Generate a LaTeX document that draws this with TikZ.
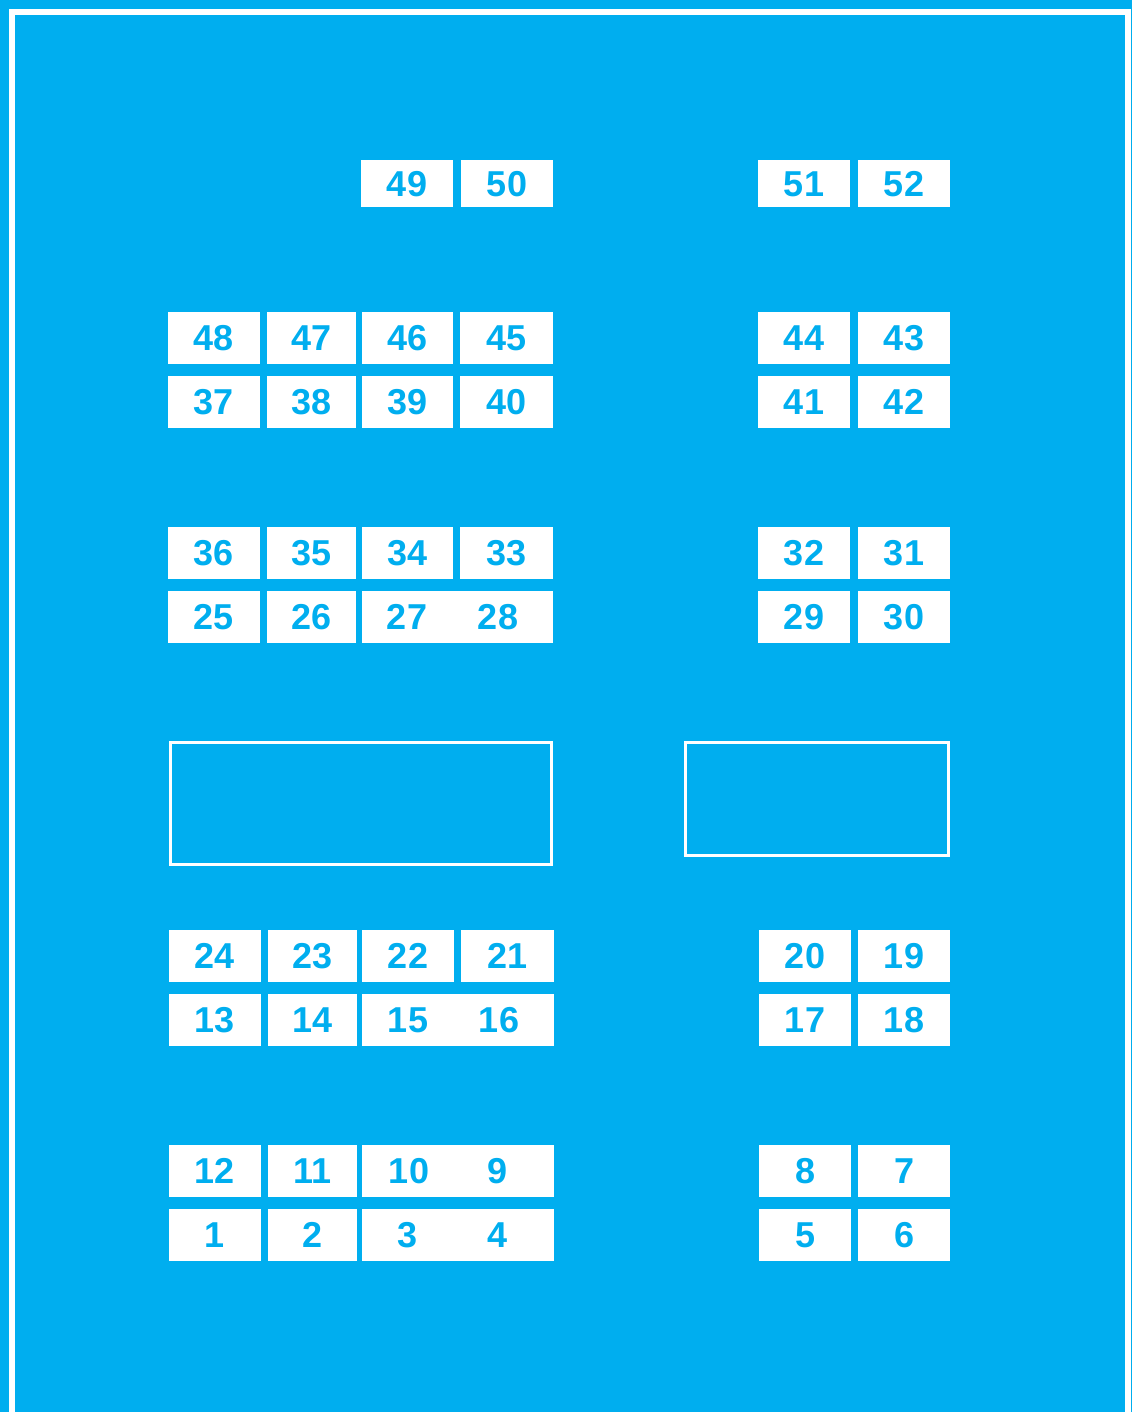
\documentclass[tikz,border=0pt]{standalone}
\usepackage{fontspec}
\setmainfont{Liberation Sans}
\definecolor{bgblue}{HTML}{00AEEF}
\begin{document}
\begin{tikzpicture}[x=1pt,y=-1pt,
  seat/.style={fill=white, draw=none, inner sep=0pt, text=bgblue,
    font=\bfseries\fontsize{36}{40}\selectfont, minimum height=52pt},
  num/.style={inner sep=0pt, text=bgblue, font=\bfseries\fontsize{36}{40}\selectfont},
  area/.style={draw=white, line width=3pt, fill=none, inner sep=0pt}]
\fill[bgblue] (0,0) rectangle (1132,1412);
\useasboundingbox (0,0) rectangle (1132,1412);
\draw[white, line width=6pt] (12,1420) -- (12,12) -- (1127.5,12) -- (1127.5,1420);
% top row
\node[seat, minimum width=92pt, minimum height=47pt] (s49) at (407,184) {49};
\node[seat, minimum width=92pt, minimum height=47pt] (s50) at (507,184) {50};
\node[seat, minimum width=92pt, minimum height=47pt] (s51) at (804,184) {51};
\node[seat, minimum width=92pt, minimum height=47pt] (s52) at (904,184) {52};
% rows 48-37
\node[seat, minimum width=92pt] (s48) at (214,338) {48};
\node[seat, minimum width=89pt] (s47) at (311.5,338) {47};
\node[seat, minimum width=91pt] (s46) at (407.5,338) {46};
\node[seat, minimum width=93pt] (s45) at (506.5,338) {45};
\node[seat, minimum width=92pt] (s44) at (804,338) {44};
\node[seat, minimum width=92pt] (s43) at (904,338) {43};
\node[seat, minimum width=92pt] (s37) at (214,402) {37};
\node[seat, minimum width=89pt] (s38) at (311.5,402) {38};
\node[seat, minimum width=91pt] (s39) at (407.5,402) {39};
\node[seat, minimum width=93pt] (s40) at (506.5,402) {40};
\node[seat, minimum width=92pt] (s41) at (804,402) {41};
\node[seat, minimum width=92pt] (s42) at (904,402) {42};
% rows 36-25
\node[seat, minimum width=92pt] (s36) at (214,553) {36};
\node[seat, minimum width=89pt] (s35) at (311.5,553) {35};
\node[seat, minimum width=91pt] (s34) at (407.5,553) {34};
\node[seat, minimum width=93pt] (s33) at (506.5,553) {33};
\node[seat, minimum width=92pt] (s32) at (804,553) {32};
\node[seat, minimum width=92pt] (s31) at (904,553) {31};
\node[seat, minimum width=92pt] (s25) at (214,617) {25};
\node[seat, minimum width=89pt] (s26) at (311.5,617) {26};
\node[seat, minimum width=191pt] (s2728) at (457.5,617) {};
\node[num] (t27) at (407,617) {27};
\node[num] (t28) at (498,617) {28};
\node[seat, minimum width=92pt] (s29) at (804,617) {29};
\node[seat, minimum width=92pt] (s30) at (904,617) {30};
% open areas
\node[area, minimum width=381pt, minimum height=122pt] (areaL) at (361,803.5) {};
\node[area, minimum width=263pt, minimum height=113pt] (areaR) at (817,799) {};
% rows 24-13
\node[seat, minimum width=92pt] (s24) at (215,956) {24};
\node[seat, minimum width=89pt] (s23) at (312.5,956) {23};
\node[seat, minimum width=92pt] (s22) at (408,956) {22};
\node[seat, minimum width=93pt] (s21) at (507.5,956) {21};
\node[seat, minimum width=92pt] (s20) at (805,956) {20};
\node[seat, minimum width=92pt] (s19) at (904,956) {19};
\node[seat, minimum width=92pt] (s13) at (215,1020) {13};
\node[seat, minimum width=89pt] (s14) at (312.5,1020) {14};
\node[seat, minimum width=192pt] (s1516) at (458,1020) {};
\node[num] (t15) at (408,1020) {15};
\node[num] (t16) at (499,1020) {16};
\node[seat, minimum width=92pt] (s17) at (805,1020) {17};
\node[seat, minimum width=92pt] (s18) at (904,1020) {18};
% rows 12-1
\node[seat, minimum width=92pt] (s12) at (215,1171) {12};
\node[seat, minimum width=89pt] (s11) at (312.5,1171) {11};
\node[seat, minimum width=192pt] (s109) at (458,1171) {};
\node[num] (t10) at (409,1171) {10};
\node[num] (t9) at (498,1171) {9};
\node[seat, minimum width=92pt] (s8) at (805,1171) {8};
\node[seat, minimum width=92pt] (s7) at (904,1171) {7};
\node[seat, minimum width=92pt] (s1) at (215,1235) {1};
\node[seat, minimum width=89pt] (s2) at (312.5,1235) {2};
\node[seat, minimum width=192pt] (s34b) at (458,1235) {};
\node[num] (t3) at (408,1235) {3};
\node[num] (t4) at (498,1235) {4};
\node[seat, minimum width=92pt] (s5) at (805,1235) {5};
\node[seat, minimum width=92pt] (s6) at (904,1235) {6};
\end{tikzpicture}
\end{document}
